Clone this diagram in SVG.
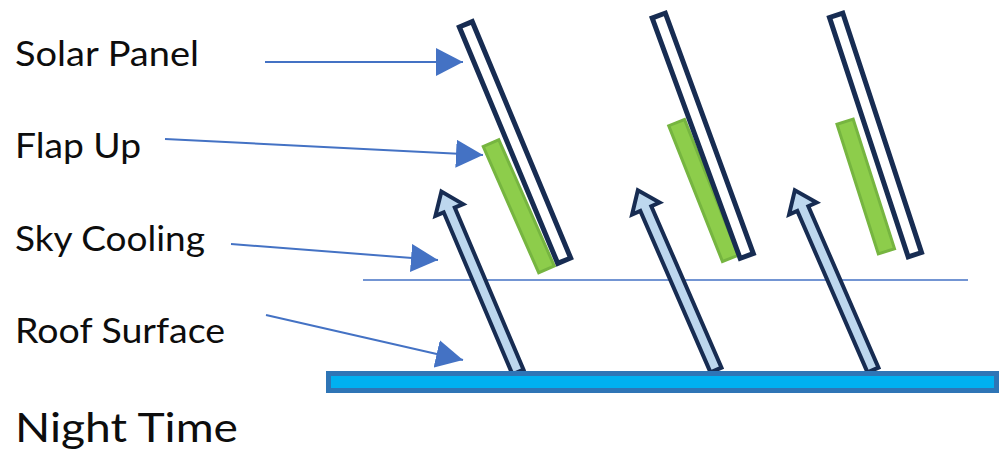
<svg xmlns="http://www.w3.org/2000/svg" width="1000" height="454" viewBox="0 0 1000 454">
  <defs>
    <style>
      .lbl { font-family: Lato, "Open Sans", "Liberation Sans", sans-serif; font-size: 35px; fill: #0d0d0d; }
      .title { font-family: Lato, "Open Sans", "Liberation Sans", sans-serif; font-size: 41px; fill: #0d0d0d; }
      .panel { fill: #ffffff; stroke: #172c52; stroke-width: 5; }
      .flap { fill: #8dcd4b; stroke: #76b540; stroke-width: 3; }
      .heat { fill: #bdd7ee; stroke: #172c52; stroke-width: 4; stroke-linejoin: miter; }
      .ptr { stroke: #4472c4; stroke-width: 2; fill: none; }
    </style>
    <marker id="tri" markerUnits="userSpaceOnUse" markerWidth="28" markerHeight="28" refX="27" refY="14" orient="auto" viewBox="0 0 28 28">
      <path d="M0,0 L27,14 L0,28 Z" fill="#4472c4"/>
    </marker>
    <polygon id="heatArrow" class="heat" points="-6,0 -6,-176 -15,-176 0,-196 15,-176 6,-176 6,0"/>
  </defs>

  <rect width="1000" height="454" fill="#ffffff"/>

  <g id="labels">
    <text class="lbl" x="15" y="66" textLength="184" lengthAdjust="spacingAndGlyphs">Solar Panel</text>
    <text class="lbl" x="15" y="158" textLength="126" lengthAdjust="spacingAndGlyphs">Flap Up</text>
    <text class="lbl" x="15" y="251" textLength="190" lengthAdjust="spacingAndGlyphs">Sky Cooling</text>
    <text class="lbl" x="15" y="343" textLength="210" lengthAdjust="spacingAndGlyphs">Roof Surface</text>
    <text class="title" x="15" y="442" textLength="223" lengthAdjust="spacingAndGlyphs">Night Time</text>
  </g>

  <g id="sky-line">
    <line x1="363" y1="280" x2="968" y2="280" stroke="#4472c4" stroke-width="1.5"/>
  </g>

  <g id="heat-arrows">
    <use href="#heatArrow" transform="translate(518,372) rotate(-23)"/>
    <use href="#heatArrow" transform="translate(716,370) rotate(-23.5)"/>
    <use href="#heatArrow" transform="translate(873,370) rotate(-23.5)"/>
  </g>

  <g id="roof">
    <rect x="328.5" y="373.5" width="668" height="17" fill="#00b0f0" stroke="#2e75b6" stroke-width="5"/>
  </g>

  <g id="panel-1">
    <rect class="flap" x="-8.5" y="-69" width="17" height="138" transform="translate(518.75,206.25) rotate(-23.7)"/>
    <rect class="panel" x="-7" y="-128" width="14" height="256" transform="translate(515,142.5) rotate(-22.6)"/>
  </g>
  <g id="panel-2">
    <rect class="flap" x="-8.5" y="-73" width="17" height="146" transform="translate(703.5,190.5) rotate(-21.6)"/>
    <rect class="panel" x="-7" y="-128" width="14" height="256" transform="translate(702.75,135.75) rotate(-20.1)"/>
  </g>
  <g id="panel-3">
    <rect class="flap" x="-8.5" y="-68" width="17" height="136" transform="translate(865.75,186.5) rotate(-17.7)"/>
    <rect class="panel" x="-7" y="-126" width="14" height="252" transform="translate(875.5,135) rotate(-18.2)"/>
  </g>

  <g id="connectors">
    <line class="ptr" x1="265" y1="62" x2="463" y2="62" marker-end="url(#tri)"/>
    <line class="ptr" x1="165" y1="139" x2="483" y2="155" marker-end="url(#tri)"/>
    <line class="ptr" x1="231" y1="244" x2="438" y2="260" marker-end="url(#tri)"/>
    <line class="ptr" x1="266" y1="315" x2="463" y2="360" marker-end="url(#tri)"/>
  </g>
</svg>
